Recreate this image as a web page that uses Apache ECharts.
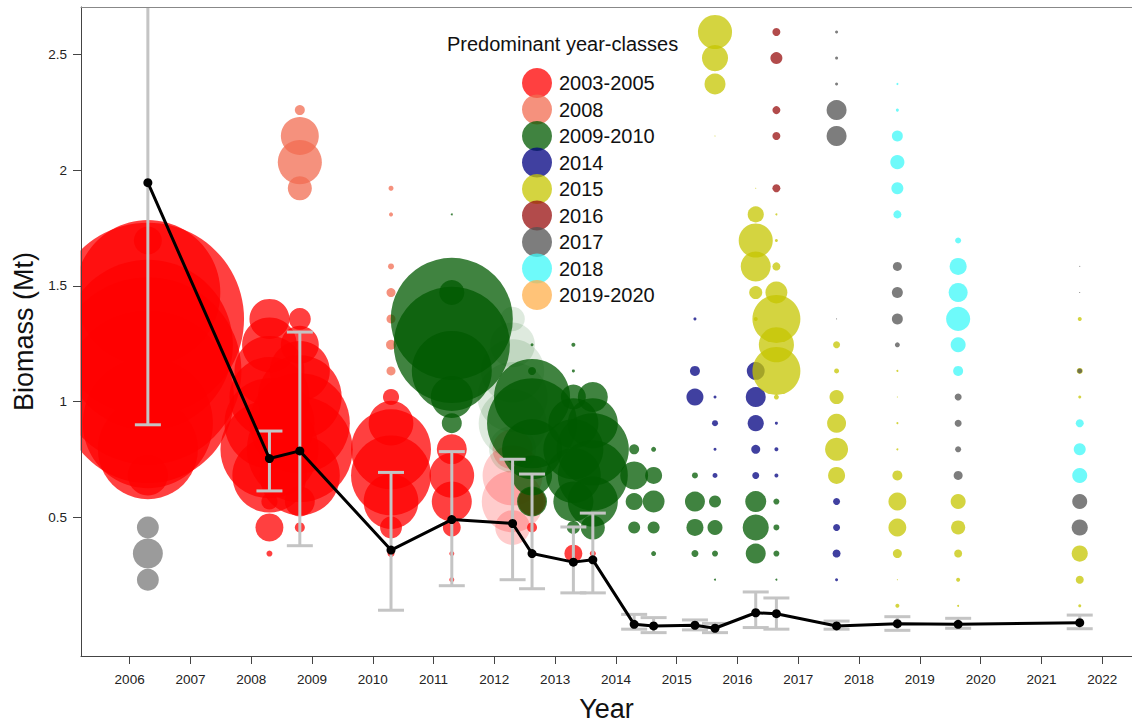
<!DOCTYPE html>
<html><head><meta charset="utf-8">
<script src="https://cdn.jsdelivr.net/npm/echarts@6/dist/echarts.min.js"></script>
<style>html,body{margin:0;padding:0;background:#fff;overflow:hidden}#c{width:1132px;height:727px}</style>
</head><body><div id="c"></div>
<script>
// ---- axis ticks ----
const yearTicks = [2006,2007,2008,2009,2010,2011,2012,2013,2014,2015,2016,2017,2018,2019,2020,2021,2022];
const biomassTicks = [0.5,1,1.5,2,2.5];

// ---- survey estimates (black line + error bars) ----
const surveyX = [2006.3,2008.3,2008.8,2010.3,2011.3,2012.3,2012.62,2013.3,2013.62,2014.3,2014.62,2015.3,2015.63,2016.3,2016.64,2017.63,2018.63,2019.63,2021.63];
const biomass = [1.946,0.753,0.786,0.357,0.489,0.472,0.342,0.305,0.315,0.036,0.029,0.032,0.019,0.086,0.082,0.029,0.039,0.036,0.043];
const errLow  = [0.899,0.613,0.376,0.097,0.203,0.229,0.190,0.172,0.172,0.015,0.000,0.012,0.000,0.022,0.015,0.015,0.010,0.019,0.017];
const errHigh = [3.200,0.872,1.300,0.693,0.783,0.750,0.686,0.457,0.517,0.079,0.065,0.055,0.040,0.176,0.150,0.050,0.069,0.062,0.076];

// ---- bubbles: [survey, biomass level, relative biomass at length] ----
const otherClasses = [[2006.3,0.455,4.8],[2006.3,0.342,9.0],[2006.3,0.229,4.8]];
const faded2012Red = [[2012.3,0.793,16],[2012.3,0.680,36],[2012.3,0.567,38],[2012.3,0.455,12]];
const faded2012Green = [[2012.3,1.357,6],[2012.3,1.245,20],[2012.3,1.132,40],[2012.3,1.019,49],[2012.3,0.906,46],[2012.3,0.793,22]];
const yc2003_2005 = [
 [2006.3,1.696,7.8],[2006.3,1.471,210],[2006.3,1.357,370],[2006.3,1.245,289],[2006.3,1.132,350],[2006.3,1.019,296],[2006.3,0.906,169],[2006.3,0.793,100],[2006.3,0.680,16],
 [2008.3,1.357,16],[2008.3,1.245,30],[2008.3,1.132,49],[2008.3,1.019,64],[2008.3,0.906,81],[2008.3,0.793,96],[2008.3,0.680,55],[2008.3,0.567,2.6],[2008.3,0.455,7.8],[2008.3,0.342,0.36],
 [2008.8,1.357,4.8],[2008.8,1.245,14.4],[2008.8,1.132,36],[2008.8,1.019,70],[2008.8,0.906,100],[2008.8,0.793,112],[2008.8,0.680,64],[2008.8,0.567,9],[2008.8,0.455,1],
 [2010.3,1.019,2.6],[2010.3,0.906,20],[2010.3,0.793,64],[2010.3,0.680,64],[2010.3,0.567,30],[2010.3,0.455,4.8],[2010.3,0.342,0.49],
 [2011.3,0.793,9],[2011.3,0.680,20],[2011.3,0.567,16],[2011.3,0.455,3.2],[2011.3,0.342,0.25],[2011.3,0.229,0.25],
 [2012.62,0.567,7.8],[2012.62,0.455,1],
 [2013.3,0.342,3.2],[2013.62,0.342,0.36]
];
const yc2008 = [
 [2008.8,2.260,1],[2008.8,2.148,14.4],[2008.8,2.035,19.4],[2008.8,1.922,5.8],
 [2010.3,1.922,0.25],[2010.3,1.809,0.16],[2010.3,1.584,0.36],[2010.3,1.471,0.81],[2010.3,1.357,0.81],[2010.3,1.245,1],[2010.3,1.132,0.81]
];
const yc2009_2010 = [
 [2011.3,1.809,0.04],[2011.3,1.471,6.25],[2011.3,1.357,149],[2011.3,1.245,135],[2011.3,1.132,64],[2011.3,1.019,17.6],[2011.3,0.906,4],
 [2012.62,1.245,0.09],[2012.62,1.132,0.64],[2012.62,1.019,58],[2012.62,0.906,81],[2012.62,0.793,36],[2012.62,0.680,16],[2012.62,0.567,9],
 [2013.3,1.245,0.16],[2013.3,1.132,0.09],[2013.3,1.019,6.25],[2013.3,0.906,25],[2013.3,0.793,36],[2013.3,0.680,30],[2013.3,0.567,16],[2013.3,0.455,1.7],
 [2013.62,1.019,9],[2013.62,0.906,25],[2013.62,0.793,52],[2013.62,0.680,49],[2013.62,0.567,25],[2013.62,0.455,5.8],
 [2014.3,0.793,1],[2014.3,0.680,7.8],[2014.3,0.567,2.9],[2014.3,0.455,1.44],
 [2014.62,0.793,0.25],[2014.62,0.680,2.9],[2014.62,0.567,4.8],[2014.62,0.455,1.44],[2014.62,0.342,0.25],
 [2015.3,0.680,0.36],[2015.3,0.567,4],[2015.3,0.455,2.9],[2015.3,0.342,0.49],
 [2015.63,0.567,1.44],[2015.63,0.455,2.25],[2015.63,0.342,0.36],[2015.63,0.229,0.04],
 [2016.3,0.567,4.4],[2016.3,0.455,6.8],[2016.3,0.342,4],
 [2016.64,0.567,0.36],[2016.64,0.455,0.36],[2016.64,0.342,0.36],[2016.64,0.229,0.04]
];
const yc2014 = [
 [2015.3,1.357,0.09],[2015.3,1.132,1],[2015.3,1.019,2.9],
 [2015.63,1.019,0.09],[2015.63,0.906,0.36],[2015.63,0.793,0.09],[2015.63,0.680,0.25],
 [2016.3,1.132,3.2],[2016.3,1.019,4],[2016.3,0.906,2.6],[2016.3,0.793,0.81],[2016.3,0.680,0.49],
 [2016.64,0.906,0.09],[2016.64,0.793,0.16],[2016.64,0.680,0.16],
 [2017.63,0.567,0.49],[2017.63,0.455,0.49],[2017.63,0.342,0.64],[2017.63,0.229,0.09]
];
const yc2015 = [
 [2015.63,2.598,11.6],[2015.63,2.485,6.8],[2015.63,2.373,4.4],[2015.63,2.148,0.01],
 [2016.3,1.922,0.01],[2016.3,1.809,2.6],[2016.3,1.696,11.6],[2016.3,1.584,9],[2016.3,1.471,1.7],[2016.3,1.357,0.16],
 [2016.64,1.809,0.04],[2016.64,1.696,0.09],[2016.64,1.584,0.64],[2016.64,1.471,4.8],[2016.64,1.357,23],[2016.64,1.245,12.3],[2016.64,1.132,23],[2016.64,1.019,0.25],
 [2017.63,1.245,0.49],[2017.63,1.132,0.25],[2017.63,1.019,2],[2017.63,0.906,3.6],[2017.63,0.793,5.3],[2017.63,0.680,2.9],
 [2018.63,1.132,0.04],[2018.63,1.019,0.01],[2018.63,0.906,0.04],[2018.63,0.793,0.04],[2018.63,0.680,1],[2018.63,0.567,3.2],[2018.63,0.455,3.2],[2018.63,0.342,0.81],[2018.63,0.229,0.01],[2018.63,0.116,0.16],
 [2019.63,0.567,2.25],[2019.63,0.455,2],[2019.63,0.342,0.64],[2019.63,0.229,0.16],[2019.63,0.116,0.04],
 [2021.63,1.357,0.16],[2021.63,1.132,0.36],[2021.63,1.019,0.09],[2021.63,0.342,2.6],[2021.63,0.229,0.64],[2021.63,0.116,0.09]
];
const yc2016 = [[2016.64,2.598,0.64],[2016.64,2.485,1.44],[2016.64,2.260,0.64],[2016.64,2.148,0.64],[2016.64,1.922,0.64]];
const yc2017 = [
 [2017.63,2.598,0.09],[2017.63,2.485,0.09],[2017.63,2.373,0.09],[2017.63,2.260,4],[2017.63,2.148,4],[2017.63,1.357,0.01],
 [2018.63,1.584,0.81],[2018.63,1.471,1.2],[2018.63,1.357,1.2],[2018.63,1.245,0.25],
 [2019.63,1.019,0.49],[2019.63,0.906,0.49],[2019.63,0.793,0.36],[2019.63,0.680,0.81],
 [2021.63,1.584,0.01],[2021.63,1.471,0.01],[2021.63,1.132,0.25],[2021.63,0.567,2.25],[2021.63,0.455,2.6]
];
const yc2018 = [
 [2018.63,2.373,0.04],[2018.63,2.260,0.09],[2018.63,2.148,1.2],[2018.63,2.035,2],[2018.63,1.922,1.44],[2018.63,1.809,0.64],
 [2019.63,1.696,0.36],[2019.63,1.584,2.9],[2019.63,1.471,3.6],[2019.63,1.357,5.8],[2019.63,1.245,2.25],[2019.63,1.132,1],
 [2021.63,0.906,0.64],[2021.63,0.793,1.44],[2021.63,0.680,2.25]
];
const yc2019_2020 = [];

const classNames = ['2003-2005','2008','2009-2010','2014','2015','2016','2017','2018','2019-2020'];
const classData = [yc2003_2005, yc2008, yc2009_2010, yc2014, yc2015, yc2016, yc2017, yc2018, yc2019_2020];
const classColors = ['#ff0000','#f26c52','#005a00','#000080','#c6c600','#980f0f','#525252','#3ef8f8','#ffaf4b'];

const FONT = "'Liberation Sans', Arial, sans-serif";
const sizeOf = v => 10 * Math.sqrt(v[2]);
function bubbles(name, data, color, opacity, z) {
  return { type:'scatter', name, data, symbol:'circle', symbolSize:sizeOf,
    itemStyle:{ color, opacity }, z: z || 2, silent:true, emphasis:{disabled:true} };
}

const series = [
  bubbles('other', otherClasses, '#7a7a7a', 0.75),
  bubbles('faded red', faded2012Red, '#ff0000', 0.2),
  bubbles('faded green', faded2012Green, '#005a00', 0.13),
];
classNames.forEach((n,i)=>series.push(bubbles(n, classData[i], classColors[i], 0.75)));
series.push({
  type:'custom', name:'err', z:9, clip:true, silent:true,
  data: surveyX.map((x,i)=>[x, errLow[i], errHigh[i]]),
  encode:{x:0, y:[1,2]},
  renderItem:(params, api)=>{
    const x = api.value(0);
    const lo = api.coord([x, api.value(1)]), hi = api.coord([x, api.value(2)]);
    const hw = 13, st = {stroke:'#c4c4c4', lineWidth:3};
    return {type:'group', children:[
      {type:'line', shape:{x1:lo[0],y1:lo[1],x2:hi[0],y2:hi[1]}, style:st},
      {type:'line', shape:{x1:lo[0]-hw,y1:lo[1],x2:lo[0]+hw,y2:lo[1]}, style:st},
      {type:'line', shape:{x1:hi[0]-hw,y1:hi[1],x2:hi[0]+hw,y2:hi[1]}, style:st}
    ]};
  }
});
series.push({
  type:'line', name:'Biomass', z:10, silent:true,
  data: surveyX.map((x,i)=>[x, biomass[i]]),
  symbol:'circle', symbolSize:9, showSymbol:true,
  lineStyle:{color:'#000', width:3}, itemStyle:{color:'#000'}
});

const chart = echarts.init(document.getElementById('c'), null, {renderer:'svg', width:1132, height:727});
chart.setOption({
  animation:false,
  textStyle:{fontFamily:FONT},
  grid:{left:81, top:7, right:0, bottom:65, show:false, containLabel:false},
  title:{text:'Predominant year-classes', left:442, top:29, z:60,
    textStyle:{fontSize:20, fontWeight:'normal', color:'#111', fontFamily:FONT}},
  legend:{data:classNames, orient:'vertical', left:517, top:63, itemWidth:30, itemHeight:30, itemGap:-3.5,
    icon:'circle', z:60, selectedMode:false,
    textStyle:{fontSize:20, color:'#111', fontFamily:FONT, padding:[0,0,0,2]}},
  xAxis:[{type:'value', min:2005.2, max:2022.49, z:60, position:'bottom',
    name:'Year', nameLocation:'middle', nameGap:39,
    nameTextStyle:{fontSize:27, color:'#111', fontFamily:FONT},
    axisLine:{show:true, onZero:false, lineStyle:{color:'#444', width:1}},
    axisTick:{show:true, length:8, customValues:yearTicks, lineStyle:{color:'#444'}},
    axisLabel:{customValues:yearTicks, fontSize:13.5, color:'#222', margin:16, formatter:v=>String(v)},
    splitLine:{show:false}},
   {type:'value', min:2005.2, max:2022.49, z:60, position:'top',
    axisLine:{show:true, onZero:false, lineStyle:{color:'#888', width:1}},
    axisTick:{show:false}, axisLabel:{show:false}, splitLine:{show:false}}],
  yAxis:{type:'value', min:-0.101, max:2.706, z:60,
    name:'Biomass (Mt)', nameLocation:'middle', nameGap:41,
    nameTextStyle:{fontSize:27, color:'#111', fontFamily:FONT},
    axisLine:{show:true, onZero:false, lineStyle:{color:'#444', width:1}},
    axisTick:{show:true, length:8, customValues:biomassTicks, lineStyle:{color:'#444'}},
    axisLabel:{customValues:biomassTicks, fontSize:13.5, color:'#222', margin:14, formatter:v=>String(v)},
    splitLine:{show:false}},
  graphic:[{type:'rect', left:0, top:0, z:50, silent:true, shape:{width:80.5, height:727}, style:{fill:'#fff'}}],
  series
});
</script></body></html>
